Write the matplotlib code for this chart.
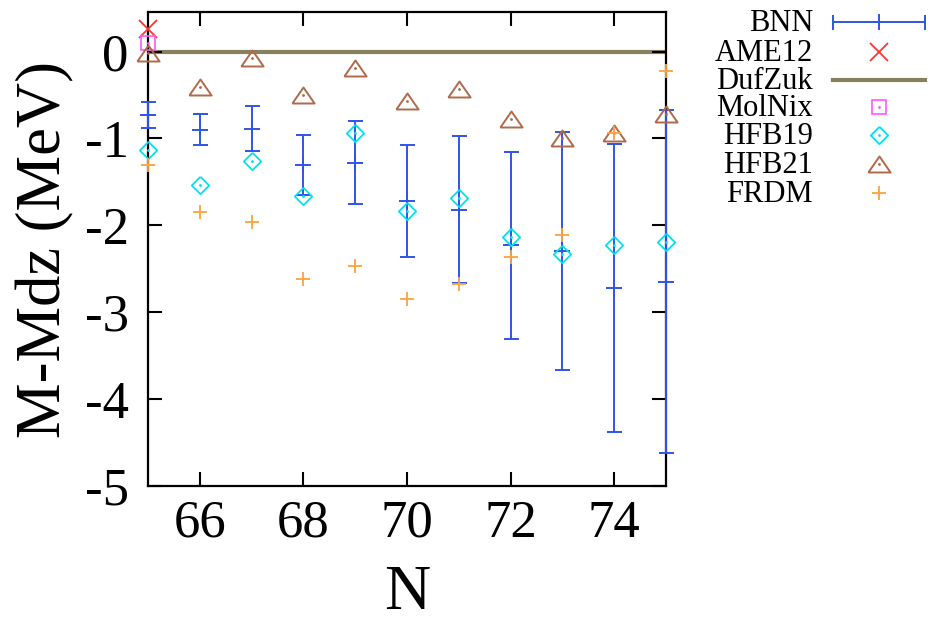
import matplotlib
matplotlib.use("Agg")
import matplotlib.pyplot as plt
from matplotlib.path import Path
import numpy as np

plt.rcParams['font.family'] = ['Liberation Serif', 'DejaVu Serif']
plt.rcParams['axes.unicode_minus'] = False

# ---------------- data ----------------
N = [65, 66, 67, 68, 69, 70, 71, 72, 73, 74, 75]
bnn = [-0.73, -0.90, -0.89, -1.31, -1.28, -1.72, -1.82, -2.23, -2.30, -2.72, -2.65]
bnn_err = [0.15, 0.18, 0.26, 0.345, 0.48, 0.64, 0.845, 1.075, 1.37, 1.655, 1.975]
hfb19 = [-1.13, -1.54, -1.26, -1.66, -0.94, -1.83, -1.68, -2.14, -2.33, -2.23, -2.19]
hfb21 = [-0.02, -0.41, -0.07, -0.50, -0.19, -0.57, -0.43, -0.78, -1.00, -0.94, -0.72]
frdm = [-1.31, -1.85, -1.96, -2.62, -2.47, -2.85, -2.67, -2.37, -2.11, -0.94, -0.22]
ame12_N = [65]
ame12 = [0.26]
molnix_N = [65]
molnix = [0.10]
dufzuk = 0.0

xticks = [66, 68, 70, 72, 74]
yticks = [0, -1, -2, -3, -4, -5]
labels = ['BNN', 'AME12', 'DufZuk', 'MolNix', 'HFB19', 'HFB21', 'FRDM']

# ---------------- styles ----------------
c_bnn = '#2f55e6'
c_ame = '#ff3333'
c_duf = '#86805c'
c_mol = '#ff55ff'
c_h19 = '#00e2ee'
c_h21 = '#b0694a'
c_frdm = '#ffa33a'

tri = Path([(-1, -0.72), (1, -0.72), (0, 0.72), (-1, -0.72)])
dia = Path([(0, 1), (1, 0), (0, -1), (-1, 0), (0, 1)])

W, H = 930, 623
fig = plt.figure(figsize=(W / 100, H / 100), dpi=100)
ax = fig.add_axes([148 / W, 1 - 486 / H, (666 - 148) / W, (486 - 12) / H])

ax.axhline(dufzuk, color=c_duf, lw=3.0, zorder=1)

ax.errorbar(N, bnn, yerr=bnn_err, fmt='+', color=c_bnn, ms=11, mew=1.4,
            elinewidth=1.4, capsize=5.4, capthick=1.4, clip_on=False, zorder=3)
ax.plot(ame12_N, ame12, 'x', color=c_ame, ms=13, mew=1.3, clip_on=False, zorder=4)
ax.plot(molnix_N, molnix, 's', color=c_mol, mfc='none', ms=10, mew=1.2,
        clip_on=False, zorder=4)
ax.plot(molnix_N, molnix, '.', color=c_mol, ms=2, clip_on=False, zorder=4)
ax.plot(N, hfb19, ls='none', marker=dia, color=c_h19, mfc='none', ms=12.5,
        mew=1.3, clip_on=False, zorder=4)
ax.plot(N, hfb19, '.', color=c_h19, ms=2, clip_on=False, zorder=4)
ax.plot(N, hfb21, ls='none', marker=tri, color=c_h21, mfc='none', ms=16,
        mew=1.4, clip_on=False, zorder=4)
ax.plot(N, hfb21, '.', color=c_h21, ms=2, clip_on=False, zorder=4)
ax.plot(N, frdm, '+', color=c_frdm, ms=10, mew=1.3, clip_on=False, zorder=4)

ax.set_xlim(65, 75)
ax.set_ylim(-5, 0.455)
ax.set_xticks(xticks)
ax.set_yticks(yticks)
ax.set_yticklabels([str(t) for t in yticks])
ax.tick_params(direction='in', length=10, width=1.5, top=True, right=True,
               labelsize=38, colors='black')
ax.tick_params(axis='x', pad=10)
ax.tick_params(axis='y', pad=14)
for s in ax.spines.values():
    s.set_linewidth(1.6)

ax.set_xlabel('N', fontsize=46, labelpad=12)
ax.set_ylabel('M-Mdz (MeV)', fontsize=45, labelpad=7)

# ---------------- legend (drawn in a pixel-space overlay) ----------------
lg = fig.add_axes([0, 0, 1, 1])
lg.set_xlim(0, W)
lg.set_ylim(H, 0)
lg.axis('off')
rows = [22, 52, 80, 107, 135, 164, 193]
tx, sx0, sx1, sxc = 813, 833, 925, 879
for lab, r in zip(labels, rows):
    lg.text(tx, r + 9, lab, ha='right', va='baseline', fontsize=22)
r = rows
lg.errorbar([sxc], [r[0]], xerr=[(sx1 - sx0) / 2], fmt='|', color=c_bnn, ms=11,
            mew=1.4, elinewidth=1.4, capsize=5.4, capthick=1.4)
lg.plot([sxc], [r[1]], 'x', color=c_ame, ms=13, mew=1.3)
lg.plot([sx0, sx1], [r[2], r[2]], color=c_duf, lw=3.0)
lg.plot([sxc], [r[3]], 's', color=c_mol, mfc='none', ms=10, mew=1.2)
lg.plot([sxc], [r[3]], '.', color=c_mol, ms=2)
lg.plot([sxc], [r[4]], ls='none', marker=dia, color=c_h19, mfc='none', ms=12.5, mew=1.3)
lg.plot([sxc], [r[4]], '.', color=c_h19, ms=2)
lg.plot([sxc], [r[5]], ls='none', marker=tri, color=c_h21, mfc='none', ms=16, mew=1.4)
lg.plot([sxc], [r[5]], '.', color=c_h21, ms=2)
lg.plot([sxc], [r[6]], '+', color=c_frdm, ms=10, mew=1.3)

fig.savefig('out.png', dpi=100)
